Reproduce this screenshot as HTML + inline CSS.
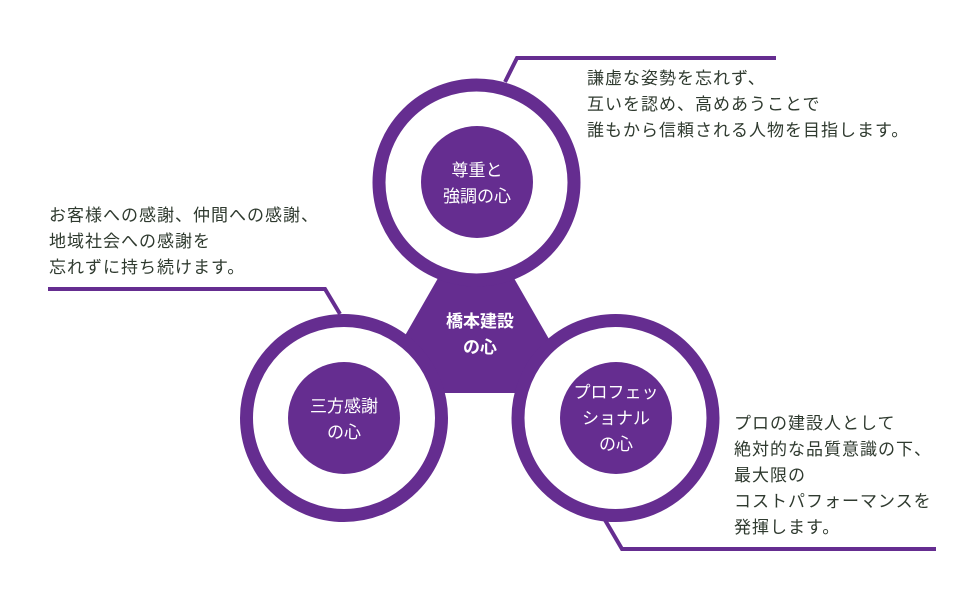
<!DOCTYPE html>
<html><head><meta charset="utf-8"><style>
html,body{margin:0;padding:0;background:#fff;}
svg{display:block;}
text{font-family:"Liberation Sans","Noto Sans CJK JP",sans-serif;}
.d{fill:#2f3a2f;font-size:17px;letter-spacing:1px;}
.w{fill:#fff;font-size:17px;text-anchor:middle;}
</style></head><body>
<svg width="960" height="600" viewBox="0 0 960 600" xmlns="http://www.w3.org/2000/svg">
<polygon points="476,212 372,393 580,393" fill="#652d90"/>
<g fill="none" stroke="#652d90" stroke-width="4">
<polyline points="505,82 517,58 776,58"/>
<polyline points="48,289 325,289 340,314"/>
<polyline points="605,520 622,549 936,549"/>
</g>
<g fill="#fff" stroke="#652d90" stroke-width="13">
<circle cx="476.5" cy="182.5" r="97.5"/>
<circle cx="344" cy="418" r="97.5"/>
<circle cx="615.5" cy="418" r="97.5"/>
</g>
<g fill="#652d90">
<circle cx="477" cy="182" r="56"/>
<circle cx="344" cy="418" r="56"/>
<circle cx="616" cy="418" r="56"/>
</g>
<text class="w" x="477" y="176">尊重と</text>
<text class="w" x="477" y="202">強調の心</text>
<text class="w" x="344" y="412">三方感謝</text>
<text class="w" x="344" y="438">の心</text>
<text class="w" x="616" y="398">プロフェッ</text>
<text class="w" x="616" y="424">ショナル</text>
<text class="w" x="616" y="450">の心</text>
<text class="w" x="480" y="327" style="font-weight:bold">橋本建設</text>
<text class="w" x="480" y="353" style="font-weight:bold">の心</text>
<text class="d" x="587" y="84">謙虚な姿勢を忘れず、</text>
<text class="d" x="587" y="110">互いを認め、高めあうことで</text>
<text class="d" x="587" y="136">誰もから信頼される人物を目指します。</text>
<text class="d" x="49" y="221">お客様への感謝、仲間への感謝、</text>
<text class="d" x="49" y="247">地域社会への感謝を</text>
<text class="d" x="49" y="273">忘れずに持ち続けます。</text>
<text class="d" x="734" y="429">プロの建設人として</text>
<text class="d" x="734" y="455">絶対的な品質意識の下、</text>
<text class="d" x="734" y="481">最大限の</text>
<text class="d" x="734" y="507">コストパフォーマンスを</text>
<text class="d" x="734" y="533">発揮します。</text>
</svg>
</body></html>
